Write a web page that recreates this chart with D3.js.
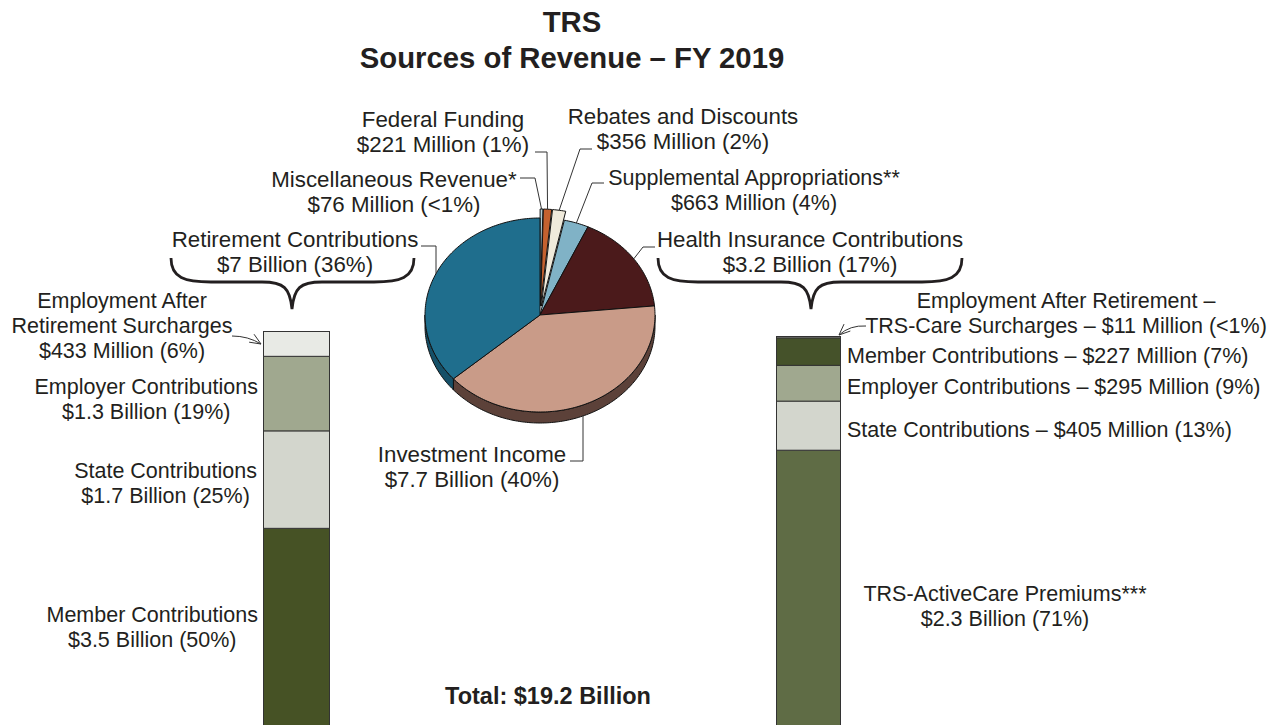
<!DOCTYPE html>
<html>
<head>
<meta charset="utf-8">
<script src="https://cdn.jsdelivr.net/npm/d3@7"></script>
<style>
  body { margin: 0; background: #fff; }
  text { font-family: "Liberation Sans", Arial, sans-serif; fill: #231f20; }
</style>
</head>
<body>
<svg id="chart" width="1275" height="725"></svg>
<script>
// ---------------- data ($ billions) ----------------
var pieCategories = ["Miscellaneous Revenue*", "Federal Funding", "Rebates and Discounts",
  "Supplemental Appropriations**", "Health Insurance Contributions", "Investment Income", "Retirement Contributions"];
var pieValues = [0.076, 0.221, 0.356, 0.663, 3.2, 7.7, 7.0];
var pieAmounts = ["$76 Million (<1%)", "$221 Million (1%)", "$356 Million (2%)",
  "$663 Million (4%)", "$3.2 Billion (17%)", "$7.7 Billion (40%)", "$7 Billion (36%)"];

var retirementCategories = ["Member Contributions", "State Contributions", "Employer Contributions", "Employment After Retirement Surcharges"];
var retirementValues = [3.5, 1.7, 1.3, 0.433];
var retirementAmounts = ["$3.5 Billion (50%)", "$1.7 Billion (25%)", "$1.3 Billion (19%)", "$433 Million (6%)"];

var healthCategories = ["TRS-ActiveCare Premiums***", "State Contributions", "Employer Contributions",
  "Member Contributions", "Employment After Retirement – TRS-Care Surcharges"];
var healthValues = [2.3, 0.405, 0.295, 0.227, 0.011];
var healthAmounts = ["$2.3 Billion (71%)", "$405 Million (13%)", "$295 Million (9%)", "$227 Million (7%)", "$11 Million (<1%)"];

var totalLabel = "Total: $19.2 Billion";

// ---------------- styles ----------------
var pieColors = ["#b2ccd5", "#c4612f", "#efeadb", "#80b2c6", "#4b1a1b", "#c99b88", "#1f6e8d"];
var pieSideColors = ["#7d959c", "#8a4220", "#b0ab9c", "#5c8799", "#2e0f10", "#5c4139", "#155068"];
var retirementColors = ["#465225", "#d3d6cd", "#a0a88f", "#e8eae5"];
var healthColors = ["#5f6c45", "#d3d6cd", "#a0a88f", "#45522a", "#c9ccc4"];

var svg = d3.select('#chart');
var FONT = 21.5, PIE_FONT = 22.3;

// ---------------- title ----------------
svg.append('text').attr('x', 572).attr('y', 32).attr('text-anchor', 'middle')
  .style('font-size', '29.3px').style('font-weight', 'bold').text('TRS');
svg.append('text').attr('x', 572).attr('y', 68).attr('text-anchor', 'middle')
  .style('font-size', '29.3px').style('font-weight', 'bold').text('Sources of Revenue \u2013 FY 2019');

// ---------------- 3D pie ----------------
var cx = 540, cy = 315, rx = 115, ry = 97, depth = 11, explode = 9;
var exploded = [0, 1, 2];

var arcs = d3.pie().sort(null).value(function (d) { return d; })(pieValues);

function pt(a, i, yOff) {
  var off = exploded.indexOf(i) >= 0 ? explode : 0;
  var mid = (arcs[i].startAngle + arcs[i].endAngle) / 2;
  return [cx + off * Math.sin(mid) + rx * Math.sin(a),
          cy - off * Math.cos(mid) - ry * Math.cos(a) + (yOff || 0)];
}
function apex(i) {
  var off = exploded.indexOf(i) >= 0 ? explode : 0;
  var mid = (arcs[i].startAngle + arcs[i].endAngle) / 2;
  return [cx + off * Math.sin(mid), cy - off * Math.cos(mid)];
}
function arcPts(a0, a1, i, yOff) {
  var n = Math.max(2, Math.ceil(Math.abs(a1 - a0) / 0.02));
  return d3.range(n + 1).map(function (k) { return pt(a0 + (a1 - a0) * k / n, i, yOff); });
}
var line = d3.line();

// side walls (front half only)
var gPie = svg.append('g');
arcs.forEach(function (d, i) {
  var a0 = Math.max(d.startAngle, Math.PI / 2), a1 = Math.min(d.endAngle, Math.PI * 1.5);
  if (a0 >= a1) return;
  var pts = arcPts(a0, a1, i, 0).concat(arcPts(a1, a0, i, depth));
  gPie.append('path').attr('d', line(pts) + 'Z')
    .attr('fill', pieSideColors[i]).attr('stroke', '#111').attr('stroke-width', 1);
});
// top faces
arcs.forEach(function (d, i) {
  var pts = [apex(i)].concat(arcPts(d.startAngle, d.endAngle, i, 0));
  gPie.append('path').attr('d', line(pts) + 'Z')
    .attr('fill', pieColors[i]).attr('stroke', '#111').attr('stroke-width', 1).attr('stroke-linejoin', 'round');
});

// ---------------- text helper ----------------
function label(lines, x, y, anchor, size, weight) {
  var t = svg.append('text').attr('text-anchor', anchor || 'middle')
    .style('font-size', (size || FONT) + 'px').style('font-weight', weight || 'normal');
  lines.forEach(function (s, k) {
    t.append('tspan').attr('x', x).attr('y', y + k * 25).text(s);
  });
  return t;
}
function leader(pts) {
  svg.append('path').attr('d', line(pts)).attr('fill', 'none')
    .attr('stroke', '#333').attr('stroke-width', 1);
}
function midAngle(i) { return (arcs[i].startAngle + arcs[i].endAngle) / 2; }

// pie labels
label([pieCategories[1], pieAmounts[1]], 443, 127, 'middle', PIE_FONT);
label([pieCategories[2], pieAmounts[2]], 683, 124, 'middle', PIE_FONT);
label([pieCategories[0], pieAmounts[0]], 394, 187, 'middle', PIE_FONT);
label([pieCategories[3], pieAmounts[3]], 754, 185, 'middle', FONT);
label([pieCategories[6], pieAmounts[6]], 295, 247, 'middle', PIE_FONT);
label([pieCategories[4], pieAmounts[4]], 810, 247, 'middle', PIE_FONT);
label([pieCategories[5], pieAmounts[5]], 472, 462, 'middle', PIE_FONT);

leader([[520, 178], [535, 178], pt(midAngle(0), 0)]);
leader([[535, 152], [547, 152], pt(midAngle(1), 1)]);
leader([[592, 149], [580, 149], pt(midAngle(2), 2)]);
leader([[604, 183], [592, 183], pt(midAngle(3), 3)]);
leader([[655, 247], [643, 247], pt(midAngle(4), 4)]);
// retirement leader drops to the rim at x = 436
var aR = 2 * Math.PI - Math.asin((cx - 436) / rx);
leader([[421, 246], [436, 246], pt(aR, 6)]);
// investment leader rises to the wall bottom at x = 583
var aI = Math.PI - Math.asin((583 - cx) / rx);
leader([[570, 461], [583, 461], pt(aI, 5, depth)]);

// ---------------- braces ----------------
function brace(x1, x2, xm, y0, y1) {
  var h = y0 + 24;
  return 'M' + x1 + ',' + y0 +
    ' C' + x1 + ',' + (h - 4) + ' ' + (x1 + 14) + ',' + h + ' ' + (x1 + 40) + ',' + h +
    ' L' + (xm - 30) + ',' + h +
    ' C' + (xm - 8) + ',' + h + ' ' + (xm - 2) + ',' + (h + 6) + ' ' + xm + ',' + y1 +
    ' C' + (xm + 2) + ',' + (h + 6) + ' ' + (xm + 8) + ',' + h + ' ' + (xm + 30) + ',' + h +
    ' L' + (x2 - 40) + ',' + h +
    ' C' + (x2 - 14) + ',' + h + ' ' + x2 + ',' + (h - 4) + ' ' + x2 + ',' + y0;
}
svg.append('path').attr('d', brace(171, 414, 292, 258, 309))
  .attr('fill', 'none').attr('stroke', '#231f20').attr('stroke-width', 2.8);
svg.append('path').attr('d', brace(658, 962, 811, 258, 309))
  .attr('fill', 'none').attr('stroke', '#231f20').attr('stroke-width', 2.8);

// ---------------- stacked bars ----------------
function stackBar(values, colors, x0, w, top, bottom) {
  var y = d3.scaleLinear().domain([0, d3.sum(values)]).range([bottom, top]);
  var cum = [0].concat(Array.from(d3.cumsum(values)));
  var g = svg.append('g');
  values.forEach(function (v, i) {
    g.append('rect').attr('x', x0).attr('width', w)
      .attr('y', y(cum[i + 1])).attr('height', y(cum[i]) - y(cum[i + 1]))
      .attr('fill', colors[i]).attr('stroke', '#333').attr('stroke-width', 1);
  });
  return function (i) { return (y(cum[i]) + y(cum[i + 1])) / 2; };
}
var leftMid = stackBar(retirementValues, retirementColors, 263.5, 66, 331.5, 729);
var rightMid = stackBar(healthValues, healthColors, 776.5, 64, 336.5, 729);

// left bar labels: line block right-aligned near the bar, lines centred
function blockLabel(lines, right, yMid) {
  var y0 = yMid - (lines.length - 1) * 12.5 + 7.5;
  var t = label(lines, 0, y0);
  var w = d3.max(t.selectAll('tspan').nodes(), function (n) { return n.getComputedTextLength(); });
  t.selectAll('tspan').attr('x', right - w / 2);
  return t;
}
blockLabel([retirementCategories[2], retirementAmounts[2]], 258, leftMid(2) + 5);
blockLabel([retirementCategories[1], retirementAmounts[1]], 257, leftMid(1) + 3);
blockLabel([retirementCategories[0], retirementAmounts[0]], 258, leftMid(0) - 2);
label(['Employment After', 'Retirement Surcharges', retirementAmounts[3]], 122, 308);

// right bar labels
[3, 2, 1].forEach(function (i) {
  label([healthCategories[i] + ' \u2013 ' + healthAmounts[i]], 847, rightMid(i) + 11, 'start');
});
label(['Employment After Retirement \u2013', 'TRS-Care Surcharges \u2013 ' + healthAmounts[4]], 1066, 308);
label([healthCategories[0], healthAmounts[0]], 1005, 601);

// arrows
function arrow(from, ctrl, to) {
  svg.append('path').attr('d', 'M' + from + ' Q' + ctrl + ' ' + to)
    .attr('fill', 'none').attr('stroke', '#333').attr('stroke-width', 1);
  var ang = Math.atan2(to[1] - ctrl[1], to[0] - ctrl[0]);
  var L = 12, s = 0.4;
  var p1 = [to[0] - L * Math.cos(ang - s), to[1] - L * Math.sin(ang - s)];
  var p2 = [to[0] - L * Math.cos(ang + s), to[1] - L * Math.sin(ang + s)];
  svg.append('path').attr('d', line([p1, to, p2]))
    .attr('fill', 'none').attr('stroke', '#333').attr('stroke-width', 1);
}
arrow([232, 336], [248, 336], [261, 344]);
arrow([866, 326], [850, 325], [839, 335]);

// total
label([totalLabel], 548, 704, 'middle', 23.5, 'bold');
</script>
</body>
</html>
